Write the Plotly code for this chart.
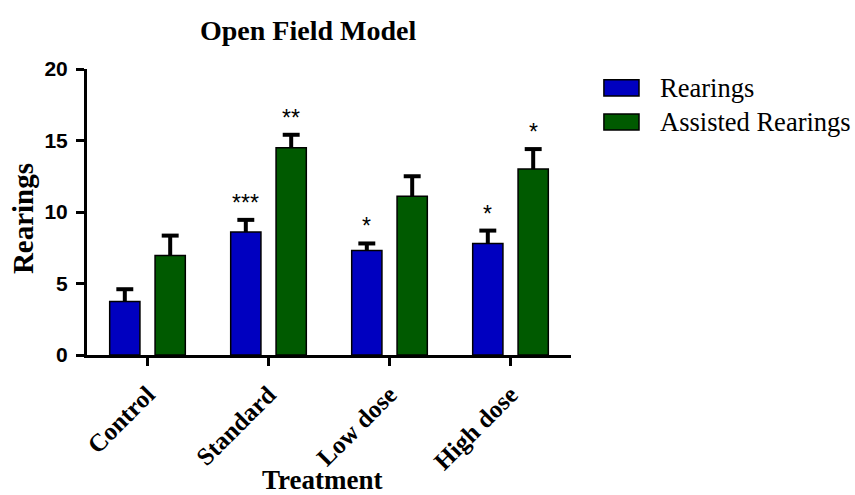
import plotly.graph_objects as go

# Open field test: mean rearings per treatment group with SEM
treatments = ["Control", "Standard", "Low dose", "High dose"]
series_names = ["Rearings", "Assisted Rearings"]
rearings_mean = [3.75, 8.6, 7.3, 7.8]
rearings_sem = [0.85, 0.85, 0.5, 0.9]
assisted_mean = [6.95, 14.5, 11.1, 13.0]
assisted_sem = [1.4, 0.9, 1.4, 1.4]
rearings_sig = ["", "***", "*", "*"]
assisted_sig = ["", "**", "", "*"]

BLUE = "#0000C0"
GREEN = "#005A00"
BAR_W = 0.25
CENTRES = [-0.1875, 0.1875]   # bar centre relative to the group centre
CAP_HALF = 0.07               # half-width of the error-bar cap, in category units

positions = list(range(len(treatments)))

fig = go.Figure()
annotations = []
series = [
    (series_names[0], rearings_mean, rearings_sem, rearings_sig, BLUE, CENTRES[0]),
    (series_names[1], assisted_mean, assisted_sem, assisted_sig, GREEN, CENTRES[1]),
]
for name, means, sems, sig, color, dc in series:
    fig.add_trace(go.Bar(
        x=positions, y=means, name=name,
        width=BAR_W, offset=dc - BAR_W / 2,
        marker=dict(color=color, line=dict(color="black", width=1.5)),
        showlegend=False,
    ))
    # upper-only SEM bars: stem from the bar top plus a cap
    ex, ey = [], []
    for p, m, s in zip(positions, means, sems):
        xc = p + dc
        ex += [xc, xc, None, xc - CAP_HALF, xc + CAP_HALF, None]
        ey += [m, m + s, None, m + s, m + s, None]
    fig.add_trace(go.Scatter(
        x=ex, y=ey, mode="lines", line=dict(color="black", width=4),
        showlegend=False, hoverinfo="skip",
    ))
    # significance markers above the error bars
    for p, m, s, txt in zip(positions, means, sems, sig):
        if txt:
            annotations.append(dict(
                x=p + dc, y=m + s, xref="x", yref="y",
                text=txt, showarrow=False, yanchor="bottom", yshift=2,
                font=dict(family="Liberation Sans", size=23, color="black"),
            ))

serif_bold = dict(family="Liberation Serif", color="black", weight="bold")

annotations += [
    dict(text="Open Field Model", x=0.4566, y=1.133, xref="paper", yref="paper",
         showarrow=False, xanchor="center", yanchor="middle",
         font=dict(size=28, **serif_bold)),
    dict(text="Treatment", x=0.486, y=-0.437, xref="paper", yref="paper",
         showarrow=False, xanchor="center", yanchor="middle",
         font=dict(size=27, **serif_bold)),
    dict(text="Rearings", x=-0.132, y=0.4755, xref="paper", yref="paper",
         showarrow=False, xanchor="center", yanchor="middle", textangle=-90,
         font=dict(size=29, **serif_bold)),
]

# legend drawn as swatches + labels to the right of the plot
shapes = []
legend_rows = [(0.934, BLUE), (0.815, GREEN)]
for (yc, color), label in zip(legend_rows, series_names):
    shapes.append(dict(type="rect", xref="paper", yref="paper",
                       x0=1.068, x1=1.1405, y0=yc - 0.028, y1=yc + 0.028,
                       fillcolor=color, line=dict(color="black", width=1.5)))
    annotations.append(dict(text=label, x=1.1798, y=yc, xref="paper", yref="paper",
                            showarrow=False, xanchor="left", yanchor="middle",
                            font=dict(family="Liberation Serif", size=26.5, color="black")))

fig.update_layout(
    width=855, height=495,
    margin=dict(l=87, r=284, t=69, b=140),
    paper_bgcolor="white", plot_bgcolor="white",
    barmode="overlay",
    annotations=annotations, shapes=shapes,
)
fig.update_xaxes(
    range=[-0.5, 3.5], tickvals=positions, ticktext=treatments,
    showline=True, linewidth=3, linecolor="black",
    ticks="outside", ticklen=8, tickwidth=3, tickcolor="black",
    tickangle=-45, showgrid=False, zeroline=False, ticklabelstandoff=4,
    tickfont=dict(size=25, **serif_bold),
)
fig.update_yaxes(
    range=[0, 20], tickvals=[0, 5, 10, 15, 20],
    showline=True, linewidth=3, linecolor="black",
    ticks="outside", ticklen=8, tickwidth=3, tickcolor="black",
    showgrid=False, zeroline=False, ticklabelstandoff=4,
    tickfont=dict(family="Liberation Sans", size=21, color="black", weight="bold"),
)

fig.write_html("out.html")
